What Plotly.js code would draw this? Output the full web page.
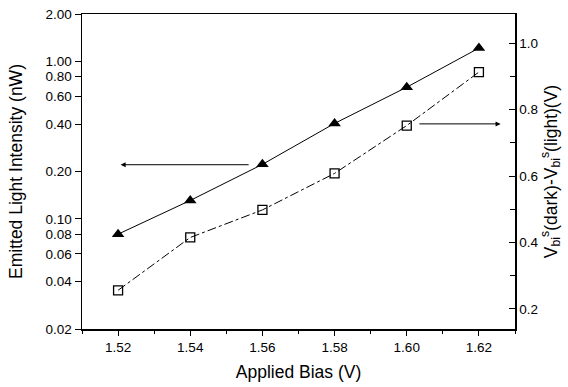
<!DOCTYPE html>
<html>
<head>
<meta charset="utf-8">
<script src="https://cdn.plot.ly/plotly-3.0.1.min.js"></script>
<style>html,body{margin:0;padding:0;background:#fff;}#chart{width:568px;height:387px;}</style>
</head>
<body>
<div id="chart"></div>
<script>
const bias = [1.52, 1.54, 1.56, 1.58, 1.60, 1.62];
const lightIntensity = [0.080, 0.131, 0.222, 0.404, 0.686, 1.215];
const vbiDiff = [0.256, 0.415, 0.498, 0.608, 0.752, 0.913];
const leftTickVals = [0.02, 0.04, 0.06, 0.08, 0.10, 0.20, 0.40, 0.60, 0.80, 1.00, 2.00];
const leftTickText = ["0.02", "0.04", "0.06", "0.08", "0.10", "0.20", "0.40", "0.60", "0.80", "1.00", "2.00"];
const xTickVals = [1.52, 1.54, 1.56, 1.58, 1.60, 1.62];
const xTickText = ["1.52", "1.54", "1.56", "1.58", "1.60", "1.62"];
const rightTickVals = [0.2, 0.4, 0.6, 0.8, 1.0];
const rightTickText = ["0.2", "0.4", "0.6", "0.8", "1.0"];

const font = "Liberation Sans, Arial, sans-serif";

const traces = [
  {
    x: bias, y: lightIntensity, type: "scatter", mode: "lines+markers",
    line: {color: "#000", width: 1},
    marker: {symbol: "triangle-up", size: 11, color: "#000"},
    yaxis: "y", showlegend: false
  },
  {
    x: bias, y: vbiDiff, type: "scatter", mode: "lines+markers",
    line: {color: "#000", width: 1, dash: "dashdot"},
    marker: {symbol: "square-open", size: 9, color: "#000", line: {width: 1.3}},
    yaxis: "y2", showlegend: false
  }
];

const layout = {
  width: 568, height: 387,
  margin: {l: 82, r: 53, t: 14, b: 58},
  paper_bgcolor: "#fff", plot_bgcolor: "#fff",
  font: {family: font, color: "#000", size: 13},
  xaxis: {
    range: [1.51, 1.63],
    tickvals: xTickVals, ticktext: xTickText,
    ticks: "outside", ticklen: 5, tickwidth: 1, tickcolor: "#000",
    minor: {dtick: 0.01, ticks: "outside", ticklen: 3, tickcolor: "#000", showgrid: false},
    showline: true, linecolor: "#000", linewidth: 1.5, mirror: true,
    showgrid: false, zeroline: false,
    tickfont: {size: 13.5},
    title: {text: "Applied Bias (V)", font: {size: 17.5}, standoff: 12}
  },
  yaxis: {
    type: "log",
    range: [Math.log10(0.02), Math.log10(2)],
    tickvals: leftTickVals, ticktext: leftTickText,
    ticks: "outside", ticklen: 6, tickwidth: 1, tickcolor: "#000",
    showline: true, linecolor: "#000", linewidth: 1.5,
    showgrid: false, zeroline: false,
    tickfont: {size: 13.5},
    title: {text: "Emitted Light Intensity (nW)", font: {size: 17.5}, standoff: 18}
  },
  yaxis2: {
    overlaying: "y", side: "right", anchor: "x",
    range: [0.1394, 1.0879],
    tickvals: rightTickVals, ticktext: rightTickText,
    ticks: "inside", ticklen: 6, tickwidth: 1, tickcolor: "#000",
    minor: {dtick: 0.1, ticks: "inside", ticklen: 5, tickcolor: "#000", showgrid: false},
    showline: true, linecolor: "#000", linewidth: 1.5,
    showgrid: false, zeroline: false,
    tickfont: {size: 13.5},
    title: {text: "V<sub>bi</sub><sup>s</sup>(dark)-V<sub>bi</sub><sup>s</sup>(light)(V)", font: {size: 17.5}, standoff: 6}
  },
  annotations: [
    {
      xref: "x", yref: "y", axref: "x", ayref: "y",
      x: 1.5207, y: -0.656, ax: 1.5566, ay: -0.656,
      text: "", showarrow: true, arrowhead: 2, arrowsize: 1, arrowwidth: 1, arrowcolor: "#000"
    },
    {
      xref: "x", yref: "y2", axref: "x", ayref: "y2",
      x: 1.6260, y: 0.757, ax: 1.6031, ay: 0.757,
      text: "", showarrow: true, arrowhead: 2, arrowsize: 1, arrowwidth: 1, arrowcolor: "#000"
    }
  ]
};

Plotly.newPlot("chart", traces, layout, {displayModeBar: false, staticPlot: true});
</script>
</body>
</html>
